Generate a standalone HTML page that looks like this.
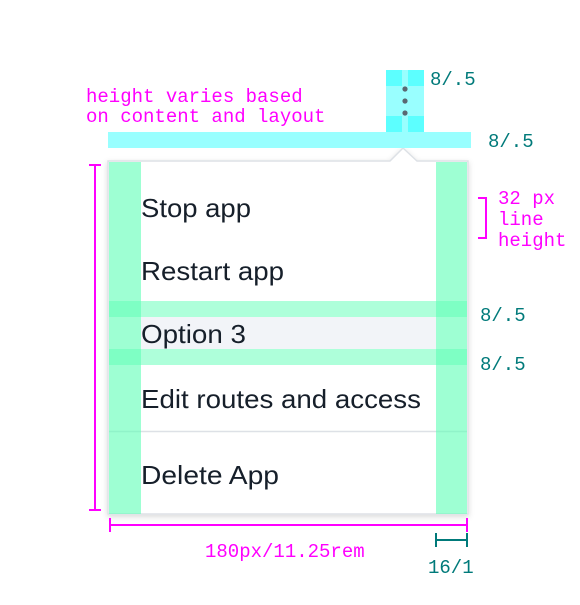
<!DOCTYPE html>
<html><head><meta charset="utf-8"><style>
body{margin:0;background:#fff;width:580px;height:600px;overflow:hidden}
.s text{font-family:"Liberation Sans",sans-serif}
.m text{font-family:"Liberation Mono",monospace;font-size:19px}
</style></head><body>
<svg width="580" height="600" viewBox="0 0 580 600" xmlns="http://www.w3.org/2000/svg">
<defs><filter id="sh" x="-10%" y="-10%" width="120%" height="120%"><feDropShadow dx="0" dy="2" stdDeviation="3" flood-color="#000" flood-opacity="0.15"/></filter></defs>
<path d="M108 161 H390 L403 148 L417 161 H468 V514 H108 Z" fill="#fff" stroke="#dde1e6" stroke-width="1.5" filter="url(#sh)"/>
<rect x="141" y="317" width="295" height="32" fill="#f2f4f8"/>
<line x1="109" y1="431.5" x2="467" y2="431.5" stroke="#dde1e6" stroke-width="1.5"/>
<rect x="109" y="162" width="32" height="352" fill="#5effb6" opacity="0.6"/>
<rect x="436" y="162" width="31" height="352" fill="#5effb6" opacity="0.6"/>
<rect x="109" y="301" width="358" height="16" fill="#5effb6" opacity="0.5"/>
<rect x="109" y="349" width="358" height="16" fill="#5effb6" opacity="0.5"/>
<g class="s" font-size="26" fill="#161f2a">
<text x="141" y="217" textLength="110" lengthAdjust="spacingAndGlyphs">Stop app</text>
<text x="141" y="280" textLength="143" lengthAdjust="spacingAndGlyphs">Restart app</text>
<text x="141" y="343" textLength="105" lengthAdjust="spacingAndGlyphs">Option 3</text>
<text x="141" y="408" textLength="280" lengthAdjust="spacingAndGlyphs">Edit routes and access</text>
<text x="141" y="484" textLength="138" lengthAdjust="spacingAndGlyphs">Delete App</text>
</g>
<rect x="108" y="132" width="363" height="16" fill="#99ffff"/>
<rect x="386" y="70" width="38" height="62" fill="#99ffff"/>
<rect x="386" y="70" width="16" height="16" fill="#5cffff"/>
<rect x="408" y="70" width="16" height="16" fill="#5cffff"/>
<rect x="386" y="116" width="16" height="16" fill="#5cffff"/>
<rect x="408" y="116" width="16" height="16" fill="#5cffff"/>
<g fill="#5a6872"><circle cx="405" cy="89" r="2.6"/><circle cx="405" cy="101" r="2.6"/><circle cx="405" cy="113" r="2.6"/></g>
<g class="m" fill="#ff00ff">
<text x="86" y="102">height varies based</text>
<text x="86" y="122">on content and layout</text>
<text x="498" y="204">32 px</text>
<text x="498" y="225">line</text>
<text x="498" y="246">height</text>
<text x="205" y="557">180px/11.25rem</text>
</g>
<g class="m" fill="#007a7a">
<text x="430" y="85">8/.5</text>
<text x="488" y="147">8/.5</text>
<text x="480" y="321">8/.5</text>
<text x="480" y="370">8/.5</text>
<text x="428" y="573">16/1</text>
</g>
<g stroke="#ff00ff" stroke-width="2" fill="none">
<path d="M95 165 V510 M89 165 H101 M89 510 H101"/>
<path d="M478 198 H486 V238 H478"/>
<path d="M110 525 H467 M110 518 V532 M467 518 V532"/>
</g>
<g stroke="#007a7a" stroke-width="2" fill="none">
<path d="M436 540 H467 M436 533 V547 M467 533 V547"/>
</g>
</svg>
</body></html>
